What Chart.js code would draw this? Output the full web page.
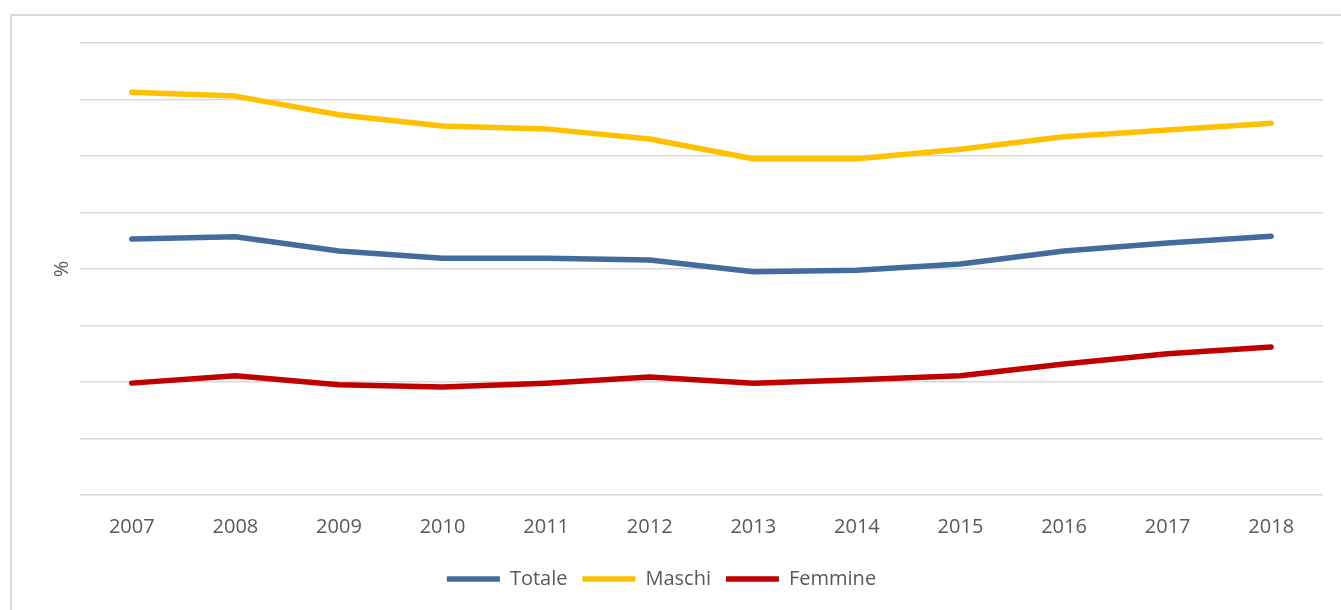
<!DOCTYPE html>
<html>
<head>
<meta charset="utf-8">
<script src="https://cdn.jsdelivr.net/npm/chart.js@4/dist/chart.umd.min.js"></script>
<style>
  html, body { margin: 0; padding: 0; background: #fff; overflow: hidden; }
  #frame { position: absolute; left: 10px; top: 14px; width: 1400px; height: 700px; border: 2px solid #d9d9d9; box-sizing: border-box; }
  #wrap { position: absolute; left: 0; top: 0; width: 1341px; height: 610px; }
</style>
</head>
<body>
<div id="frame"></div>
<div id="wrap"><canvas id="myChart" width="1341" height="610"></canvas></div>
<script>
// years on the x axis
var years = ["2007", "2008", "2009", "2010", "2011", "2012", "2013", "2014", "2015", "2016", "2017", "2018"];
// values (no y labels shown, scale 0-80)
var totale  = [45.3, 45.7, 43.2, 41.9, 41.9, 41.6, 39.5, 39.8, 40.9, 43.2, 44.6, 45.8];
var maschi  = [71.3, 70.6, 67.3, 65.3, 64.8, 63.0, 59.5, 59.5, 61.2, 63.4, 64.6, 65.8];
var femmine = [19.8, 21.1, 19.5, 19.1, 19.8, 20.9, 19.8, 20.4, 21.1, 23.2, 25.0, 26.2];

var grey = '#595959';
Chart.defaults.font.family = '"Open Sans", "Noto Sans", sans-serif';
Chart.defaults.color = grey;

function serie(label, data, color) {
  return {
    label: label,
    data: data,
    borderColor: color,
    backgroundColor: color,
    borderWidth: 5.5,
    borderCapStyle: 'round',
    borderJoinStyle: 'round',
    pointRadius: 0,
    pointStyle: 'line',
    tension: 0
  };
}

var ctx = document.getElementById("myChart").getContext('2d');
var myChart = new Chart(ctx, {
  type: 'line',
  data: {
    labels: years,
    datasets: [
      serie('Totale', totale, '#436c9e'),
      serie('Maschi', maschi, '#ffc000'),
      serie('Femmine', femmine, '#c00000')
    ]
  },
  options: {
    responsive: false,
    animation: false,
    devicePixelRatio: 1,
    layout: { padding: { left: 0, right: 18, top: 43, bottom: 11 } },
    plugins: {
      tooltip: { enabled: false },
      legend: {
        position: 'bottom',
        labels: {
          usePointStyle: true,
          pointStyleWidth: 53,
          boxWidth: 53,
          boxHeight: 5,
          padding: 15,
          font: { size: 20 },
          color: grey
        }
      }
    },
    scales: {
      x: {
        offset: true,
        grid: { display: false },
        border: { display: false },
        ticks: { font: { size: 20 }, color: grey, padding: 12 },
        afterFit: function(scale) { scale.height = 59; }
      },
      y: {
        min: 0,
        max: 80,
        ticks: { display: false, stepSize: 10 },
        grid: { color: '#d9d9d9', lineWidth: 1.5, drawTicks: false },
        border: { display: false },
        title: { display: true, text: '%', font: { size: 20 }, color: grey, padding: { top: 50, bottom: 0 } },
        afterFit: function(scale) { scale.width = 80; }
      }
    }
  }
});
</script>
</body>
</html>
